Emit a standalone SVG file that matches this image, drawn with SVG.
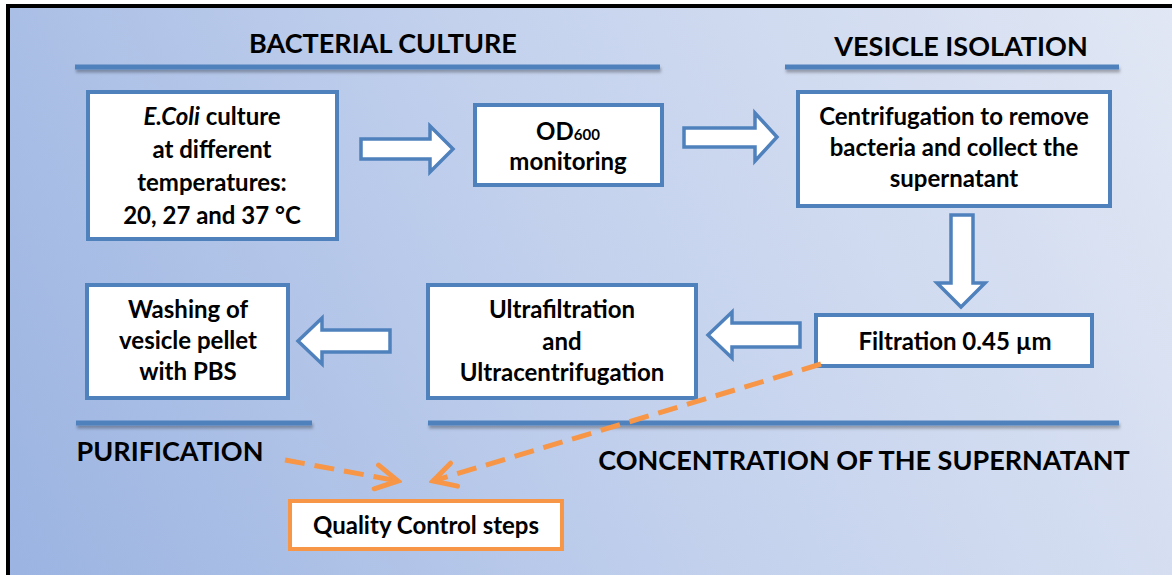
<svg xmlns="http://www.w3.org/2000/svg" width="1172" height="575" viewBox="0 0 1172 575">
<defs>
<linearGradient id="bg" x1="0" y1="575" x2="1172" y2="0" gradientUnits="userSpaceOnUse">
<stop offset="0" stop-color="#9ab3e1"/>
<stop offset="0.5" stop-color="#c3d1ed"/>
<stop offset="1" stop-color="#e1e7f4"/>
</linearGradient>
<filter id="sh" x="-5%" y="-100%" width="110%" height="400%">
<feDropShadow dx="1" dy="3" stdDeviation="1.5" flood-color="#000" flood-opacity="0.3"/>
</filter>
<marker id="oh" viewBox="0 0 30 30" refX="26" refY="15" markerWidth="30" markerHeight="30" markerUnits="userSpaceOnUse" orient="auto">
<path d="M4,3 L26,15 L4,27" fill="none" stroke="#f79646" stroke-width="5" stroke-linecap="round" stroke-linejoin="miter"/>
</marker>
</defs>
<style>
.t{font-family:Lato,"Liberation Sans",sans-serif;font-weight:bold;fill:#000;text-anchor:middle}
.h{font-size:27px}
.b{font-size:24px}
.box{fill:#fff;stroke:#4f81bd;stroke-width:4}
.qbox{fill:#fff;stroke:#f79646;stroke-width:4}
.ln{fill:#4f81bd;filter:url(#sh)}
.ba{fill:#fff;stroke:#4f81bd;stroke-width:3.5;stroke-linejoin:miter}
.od{fill:none;stroke:#f79646;stroke-width:5;stroke-dasharray:20 10}
</style>
<rect x="0" y="0" width="1172" height="575" fill="#fff"/>
<rect x="8" y="6" width="1164" height="569" fill="url(#bg)"/>
<path d="M8,575 L8,6 L1172,6" fill="none" stroke="#000" stroke-width="4"/>

<g id="headers">
<text class="t h" x="383" y="53">BACTERIAL CULTURE</text>
<rect class="ln" x="75" y="64.5" width="585" height="5"/>
<text class="t h" x="961" y="56">VESICLE ISOLATION</text>
<rect class="ln" x="785" y="64.5" width="334" height="5"/>
<rect class="ln" x="76" y="420.5" width="236" height="5"/>
<text class="t h" x="170" y="461">PURIFICATION</text>
<rect class="ln" x="428" y="420.5" width="691" height="5"/>
<text class="t h" x="864" y="470">CONCENTRATION OF THE SUPERNATANT</text>
</g>

<g id="node-ecoli">
<rect class="box" x="88" y="92" width="249" height="147"/>
<text class="t b" x="212" y="125"><tspan font-style="italic">E.Coli</tspan> culture</text>
<text class="t b" x="212" y="158">at different</text>
<text class="t b" x="212" y="191">temperatures:</text>
<text class="t b" x="212" y="224">20, 27 and 37 °C</text>
</g>

<g id="node-od">
<rect class="box" x="475" y="105" width="187" height="80"/>
<text class="t b" x="568" y="140">OD<tspan font-size="15">600</tspan></text>
<text class="t b" x="568" y="170">monitoring</text>
</g>

<g id="node-centrifugation">
<rect class="box" x="798" y="92" width="312" height="114"/>
<text class="t b" x="954" y="125">Centrifugation to remove</text>
<text class="t b" x="954" y="156">bacteria and collect the</text>
<text class="t b" x="954" y="187">supernatant</text>
</g>

<g id="node-filtration">
<rect class="box" x="816" y="315" width="276" height="51"/>
<text class="t b" x="955" y="350">Filtration 0.45 µm</text>
</g>

<g id="node-ultra">
<rect class="box" x="428" y="285" width="268" height="113"/>
<text class="t b" x="562" y="318">Ultrafiltration</text>
<text class="t b" x="562" y="350">and</text>
<text class="t b" x="562" y="381">Ultracentrifugation</text>
</g>

<g id="node-washing">
<rect class="box" x="87" y="285" width="201" height="113"/>
<text class="t b" x="188" y="318">Washing of</text>
<text class="t b" x="188" y="349">vesicle pellet</text>
<text class="t b" x="188" y="380">with PBS</text>
</g>

<g id="node-qc">
<rect class="qbox" x="290" y="501" width="272" height="48"/>
<text class="t b" x="426" y="534">Quality Control steps</text>
</g>

<g id="connectors">
<polygon class="ba" points="361,139 430,139 430,126 453,149 430,172 430,159 361,159"/>
<polygon class="ba" points="684,128 755,128 755,113 777,137 755,161 755,147 684,147"/>
<polygon class="ba" points="951,215 973,215 973,283 985,283 961,307 937,283 951,283"/>
<polygon class="ba" points="800,323 732,323 732,312 708,335 732,358 732,347 800,347"/>
<polygon class="ba" points="390,330 322,330 322,318 298,341 322,364 322,352 390,352"/>
<line class="od" x1="285" y1="460" x2="398" y2="481" marker-end="url(#oh)"/>
<line class="od" x1="821" y1="364" x2="433" y2="481" marker-end="url(#oh)"/>
</g>
</svg>
